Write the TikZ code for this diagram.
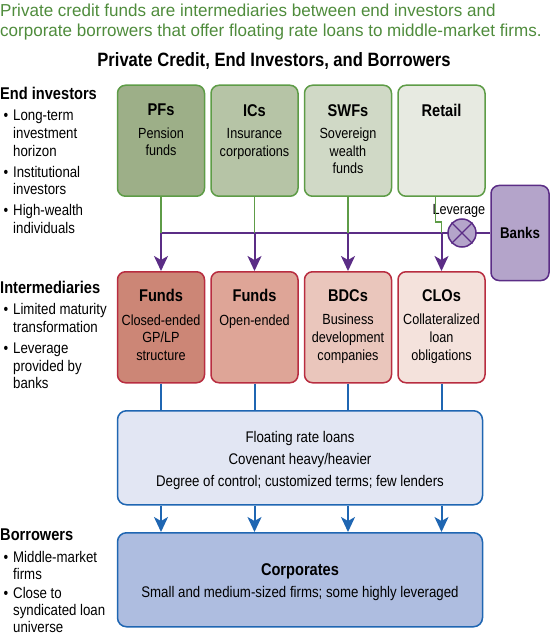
\documentclass[tikz,border=0pt]{standalone}
\usepackage{fontspec}
\setmainfont{Liberation Sans}[FakeStretch=0.86]
\newfontfamily\leadfamily{Liberation Sans}[FakeStretch=0.985]
\usetikzlibrary{arrows.meta,positioning}

\definecolor{leadgrn}{HTML}{4F8C3C}
\definecolor{grnln}{HTML}{5E9C47}
\definecolor{pfcol}{HTML}{9DAF88}
\definecolor{iccol}{HTML}{B6C4A6}
\definecolor{swfcol}{HTML}{D0D9C6}
\definecolor{retcol}{HTML}{E7EAE1}
\definecolor{redln}{HTML}{B82D40}
\definecolor{cefcol}{HTML}{CC8676}
\definecolor{oefcol}{HTML}{DEA597}
\definecolor{bdccol}{HTML}{EAC6BC}
\definecolor{clocol}{HTML}{F4E2DC}
\definecolor{purp}{HTML}{5B2D86}
\definecolor{bankcol}{HTML}{B4A4CA}
\definecolor{bluln}{HTML}{1F66B2}
\definecolor{flcol}{HTML}{E2E6F3}
\definecolor{corpcol}{HTML}{AEBDE0}

\newcommand\leadtxt{\leadfamily\fontsize{17.3}{20}\selectfont}
\newcommand\ttlfont{\fontsize{19.3}{22}\selectfont\bfseries}
\newcommand\hdfont{\fontsize{17}{20}\selectfont\bfseries}
\newcommand\bxfont{\fontsize{14.7}{17.7}\selectfont}
\newcommand\sdfont{\fontsize{15.4}{17.7}\selectfont}
\newcommand\itm{\leavevmode\llap{\textbullet\hspace{5pt}}}

\begin{document}
\begin{tikzpicture}[x=1pt, y=-1pt,
  inv/.style={draw=grnln, line width=1.5pt, rounded corners=8pt,
    minimum width=87pt, minimum height=111pt, anchor=north, inner sep=0pt},
  mid/.style={inv, draw=redln},
  wide/.style={draw=bluln, line width=1.5pt, rounded corners=9pt,
    minimum width=365pt, minimum height=94pt, anchor=north, inner sep=0pt},
  bxtxt/.style={font=\bxfont, align=center, inner sep=0pt, anchor=north},
  sdtxt/.style={font=\sdfont, align=center, inner sep=0pt, anchor=north},
  sidehd/.style={font=\hdfont, inner sep=0pt, anchor=north west},
  side/.style={font=\sdfont, align=left, inner sep=0pt},
  gl/.style={draw=grnln, line width=1.7pt},
  pl/.style={draw=purp, line width=2pt},
  pa/.style={pl, -{Stealth[length=15pt, width=14pt, inset=4pt]}},
  bln/.style={draw=bluln, line width=2pt},
  ba/.style={bln, -{Stealth[length=15pt, width=14pt, inset=4pt]}},
]
\useasboundingbox (0,0) rectangle (550,636);

% heading texts
\node[anchor=north west, inner sep=0pt, align=left, font=\leadtxt, text=leadgrn] (lead) at (0,3.3)
  {Private credit funds are intermediaries between end investors and\\
   corporate borrowers that offer floating rate loans to middle-market firms.};
\node[anchor=north, inner sep=0pt, font=\ttlfont] (ttl) at (274,52.7)
  {Private Credit, End Investors, and Borrowers};

% left column
\node[sidehd] (ei) at (0,87.3) {End investors};
\node[side, below=10pt of ei.south west, anchor=north west, xshift=13pt] (eil)
  {\itm Long-term\\investment\\horizon\\[3pt]\itm Institutional\\investors\\[3pt]\itm High-wealth\\individuals};
\node[sidehd] (im) at (0,280.7) {Intermediaries};
\node[side, below=10pt of im.south west, anchor=north west, xshift=13pt] (iml)
  {\itm Limited maturity\\transformation\\[3pt]\itm Leverage\\provided by\\banks};
\node[sidehd] (bw) at (0,529) {Borrowers};
\node[side, below=10pt of bw.south west, anchor=north west, xshift=13pt,
  font=\fontsize{15.4}{17}\selectfont] (bwl)
  {\itm Middle-market\\firms\\[2pt]\itm Close to\\syndicated loan\\universe};

% end investors row
\node[inv, fill=pfcol] (pf) at (161,84.5) {};
\node[inv, fill=iccol, right=5pt of pf] (ic) {};
\node[inv, fill=swfcol, right=5pt of ic] (swf) {};
\node[inv, fill=retcol, right=5pt of swf] (ret) {};
\node[bxtxt, below=19.5pt of pf.north] (pft) {{\hdfont PFs}\\[4.7pt]Pension\\funds};
\node[bxtxt, below=19.5pt of ic.north] (ict) {{\hdfont ICs}\\[4.7pt]Insurance\\corporations};
\node[bxtxt, below=19.5pt of swf.north] (swft) {{\hdfont SWFs}\\[4.7pt]Sovereign\\wealth\\funds};
\node[bxtxt, below=19.5pt of ret.north] (rett) {{\hdfont Retail}};

% intermediaries row
\node[mid, fill=cefcol, below=74pt of pf] (cef) {};
\node[mid, fill=oefcol, right=5pt of cef] (oef) {};
\node[mid, fill=bdccol, right=5pt of oef] (bdc) {};
\node[mid, fill=clocol, right=5pt of bdc] (clo) {};
\node[bxtxt, below=18.3pt of cef.north] (ceft) {{\hdfont Funds}\\[5.6pt]Closed-ended\\GP/LP\\structure};
\node[bxtxt, below=18.3pt of oef.north] (oeft) {{\hdfont Funds}\\[5.6pt]Open-ended};
\node[bxtxt, below=18.3pt of bdc.north] (bdct) {{\hdfont BDCs}\\[5.6pt]Business\\development\\companies};
\node[bxtxt, below=18.3pt of clo.north] (clot) {{\hdfont CLOs}\\[5.6pt]Collateralized\\loan\\obligations};

% banks and leverage
\node[draw=purp, fill=bankcol, line width=1.5pt, rounded corners=8pt, minimum width=58pt,
  minimum height=95pt, inner sep=0pt, font=\bfseries\fontsize{15.5}{18}\selectfont] (bk) at (520,233) {Banks};
\node[bxtxt, anchor=north west] (lv) at (432.3,204) {Leverage};

% loans and borrowers
\node[wide, fill=flcol] (fl) at (300,410) {};
\node[sdtxt, below=21pt of fl.north, font=\fontsize{15.4}{22}\selectfont] (flt)
  {Floating rate loans\\Covenant heavy/heavier\\Degree of control; customized terms; few lenders};
\node[wide, fill=corpcol] (cp) at (300,532) {};
\node[sdtxt, below=31.5pt of cp.north] (cpt)
  {{\hdfont Corporates}\\[4.5pt]Small and medium-sized firms; some highly leveraged};

% funding flows
\draw[pl] (pf.south |- bk.west) -- (bk.west);
\foreach \a/\b in {pf/cef, ic/oef, swf/bdc} {
  \draw[gl] (\a.south) -- (\a.south |- bk.west);
  \draw[pa] (\a.south |- bk.west) -- (\b.north);
}
\draw[gl] ([xshift=-6pt]ret.south) -- ++(0,25) -| (clo.north |- bk.west);
\draw[pa] (clo.north |- bk.west) -- (clo.north);
\node[circle, draw=purp, fill=bankcol, line width=1.5pt, minimum size=28pt, inner sep=0pt] (lx) at (462,233) {};
\draw[draw=purp, line width=1.3pt] (lx.north east) -- (lx.south west);
\draw[draw=purp, line width=1.3pt] (lx.north west) -- (lx.south east);

% lending flows
\foreach \a in {cef, oef, bdc, clo} {
  \draw[bln] (\a.south) -- (\a.south |- fl.north);
  \draw[ba] (\a.south |- fl.south) -- (\a.south |- cp.north);
}
\end{tikzpicture}
\end{document}
